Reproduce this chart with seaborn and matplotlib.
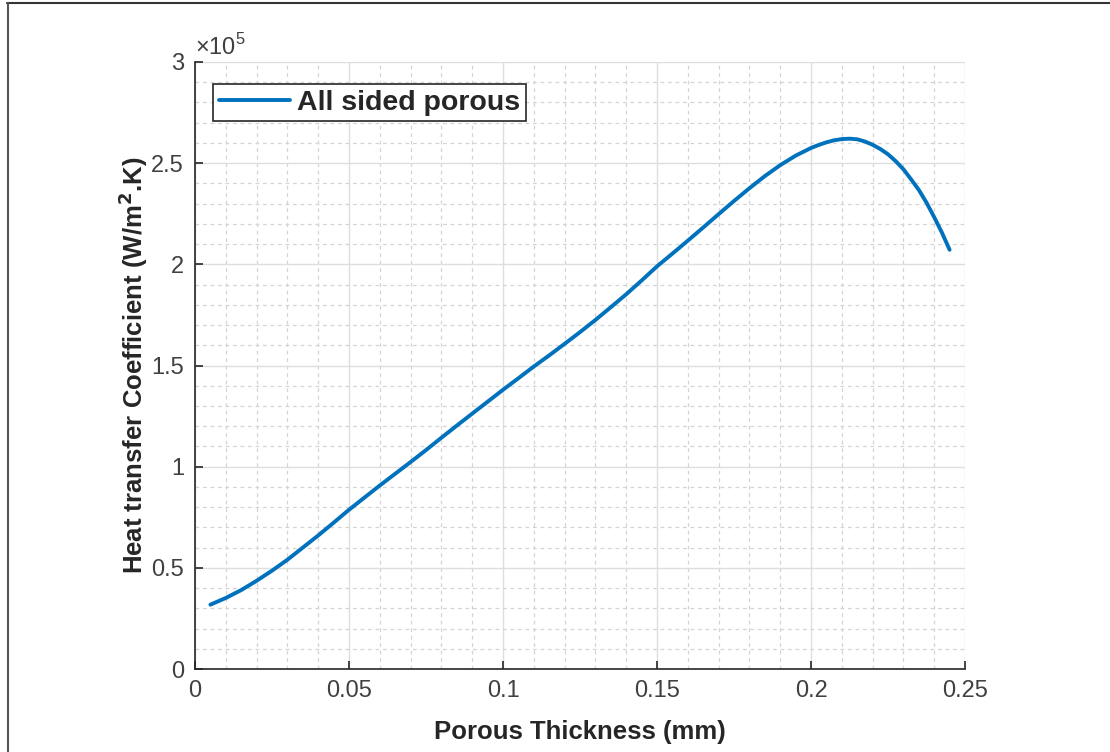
import numpy as np
import pandas as pd
import matplotlib
matplotlib.use("Agg")
import matplotlib.pyplot as plt
import seaborn as sns
from matplotlib.ticker import MultipleLocator, FuncFormatter
from matplotlib.lines import Line2D

# porous thickness (mm) and heat transfer coefficient (x1e5 W/m^2.K)
thickness = [0.005, 0.01, 0.015, 0.02, 0.025, 0.03, 0.035, 0.04, 0.045, 0.05,
             0.055, 0.06, 0.065, 0.07, 0.075, 0.08, 0.085, 0.09, 0.095, 0.10,
             0.105, 0.11, 0.115, 0.12, 0.125, 0.13, 0.135, 0.14, 0.145, 0.15,
             0.155, 0.16, 0.165, 0.17, 0.175, 0.18, 0.185, 0.19, 0.195, 0.20,
             0.2025, 0.205, 0.2075, 0.21, 0.2125, 0.215, 0.2175, 0.22, 0.2225,
             0.225, 0.2275, 0.23, 0.2325, 0.235, 0.2375, 0.24, 0.2425, 0.245]
htc_e5 = [0.318, 0.351, 0.390, 0.436, 0.486, 0.540, 0.600, 0.660, 0.723, 0.787,
          0.847, 0.907, 0.965, 1.023, 1.082, 1.143, 1.203, 1.262, 1.321, 1.380,
          1.437, 1.495, 1.550, 1.607, 1.665, 1.725, 1.788, 1.852, 1.920, 1.990,
          2.053, 2.117, 2.182, 2.248, 2.313, 2.376, 2.436, 2.490, 2.537, 2.575,
          2.590, 2.603, 2.613, 2.619, 2.621, 2.618, 2.607, 2.591, 2.570,
          2.544, 2.510, 2.470, 2.420, 2.368, 2.305, 2.233, 2.157, 2.072]
series_name = "All sided porous"

df = pd.DataFrame({
    "thickness": thickness,
    "htc": np.array(htc_e5) * 1e5,
    "series": series_name,
})

sns.set_theme(style="white")
plt.rcParams["font.family"] = ["Liberation Sans", "DejaVu Sans"]
plt.rcParams["mathtext.fontset"] = "custom"
plt.rcParams["mathtext.rm"] = "Liberation Sans"

fig = plt.figure(figsize=(11.10, 7.52), dpi=100)
ax = fig.add_axes([195 / 1110, 83 / 752, 770 / 1110, 607 / 752])

sns.lineplot(data=df, x="thickness", y="htc", hue="series", palette=["#0072BD"],
             linewidth=2.8, ax=ax, legend=False, sort=False)

ax.set_xlim(0, 0.25)
ax.set_ylim(0, 3e5)
ax.xaxis.set_major_locator(MultipleLocator(0.05))
ax.xaxis.set_minor_locator(MultipleLocator(0.01))
ax.yaxis.set_major_locator(MultipleLocator(0.5e5))
ax.yaxis.set_minor_locator(MultipleLocator(0.1e5))
ax.xaxis.set_major_formatter(FuncFormatter(lambda v, p: f"{round(v, 4):g}"))
ax.yaxis.set_major_formatter(FuncFormatter(lambda v, p: f"{round(v / 1e5, 4):g}"))
ax.text(0.0, 1.004, r"$\times10^{5}$", transform=ax.transAxes, ha="left",
        va="bottom", fontsize=17, color="#404040")

ax.grid(which="major", color="#dedede", linewidth=1.0, linestyle="-")
ax.grid(which="minor", color="#d4d4d4", linewidth=0.9, linestyle=(0, (3, 3)))
ax.set_axisbelow(True)

for side in ["top", "right"]:
    ax.spines[side].set_visible(False)
for side in ["left", "bottom"]:
    ax.spines[side].set_color("#262626")
    ax.spines[side].set_linewidth(1.2)

ax.tick_params(which="major", direction="in", length=6, width=1.2,
               colors="#262626", labelcolor="#404040", labelsize=17, pad=8)
ax.tick_params(which="minor", length=0)
ax.tick_params(axis="y", left=True)
ax.tick_params(axis="x", bottom=True)

ax.set_xlabel("Porous Thickness (mm)", fontsize=18.5, fontweight="bold",
              color="#262626", labelpad=13)
ax.set_ylabel(r"Heat transfer Coefficient (W/m$^{\mathbf{2}}$.K)", fontsize=18.5,
              fontweight="bold", color="#262626", labelpad=1)

handle = Line2D([], [], color="#0072BD", linewidth=2.8)
leg = ax.legend([handle], [series_name], loc="upper left",
                bbox_to_anchor=(18 / 770, 1 - 22 / 607), borderaxespad=0,
                prop={"size": 20.5, "weight": "bold"}, handlelength=2.5,
                handletextpad=0.25, borderpad=0.2, fancybox=False, framealpha=1)
leg.get_frame().set_edgecolor("#262626")
leg.get_frame().set_linewidth(1.2)

# outer figure frame (top and left edges)
fig.add_artist(Line2D([7 / 1110, 1], [1 - 2.5 / 752, 1 - 2.5 / 752],
                      color="#333333", linewidth=1.5, transform=fig.transFigure))
fig.add_artist(Line2D([7.5 / 1110, 7.5 / 1110], [0, 1 - 2.5 / 752],
                      color="#555555", linewidth=1.5, transform=fig.transFigure))

fig.savefig("out.png", dpi=100)
plt.close(fig)
